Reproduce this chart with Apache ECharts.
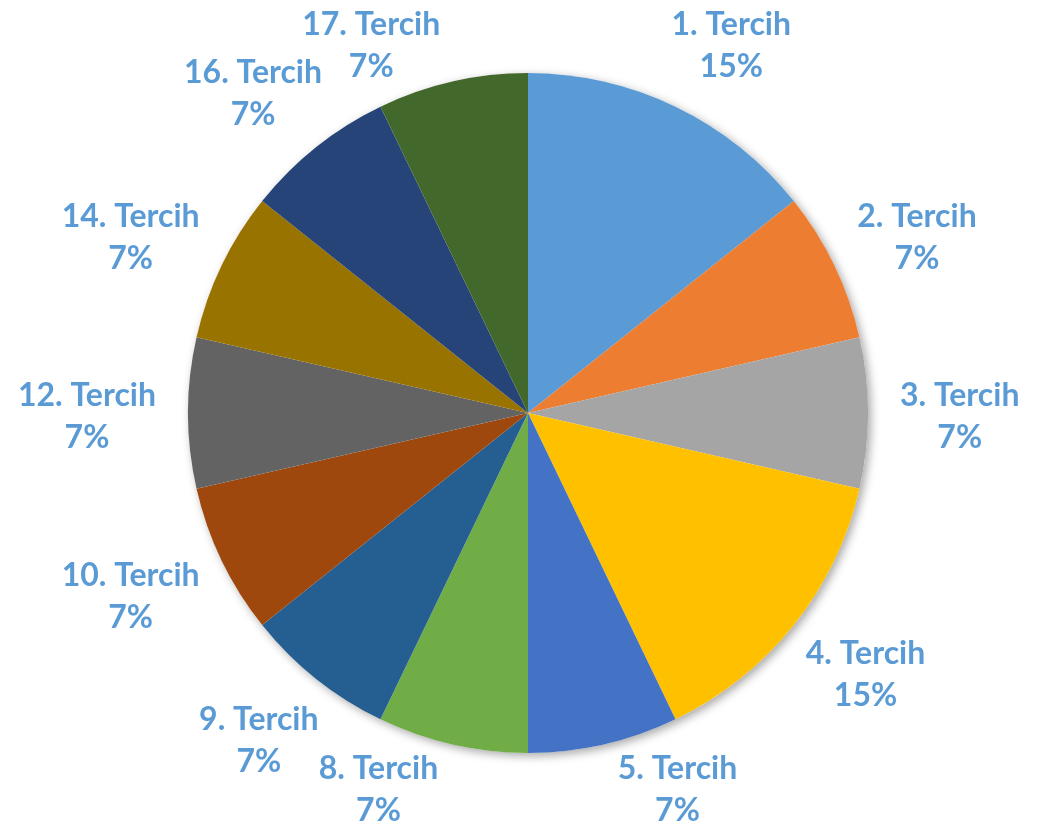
<!DOCTYPE html>
<html>
<head>
<meta charset="utf-8">
<style>html,body{margin:0;padding:0;background:#fff}#c{width:1045px;height:832px}</style>
<script src="https://cdn.jsdelivr.net/npm/echarts@6/dist/echarts.min.js"></script>
</head>
<body>
<div id="c"></div>
<script>
const categories = ['1. Tercih','2. Tercih','3. Tercih','4. Tercih','5. Tercih','8. Tercih','9. Tercih','10. Tercih','12. Tercih','14. Tercih','16. Tercih','17. Tercih'];
const values = [2,1,1,2,1,1,1,1,1,1,1,1];
const colors = ['#5B9BD5','#ED7D31','#A5A5A5','#FFC000','#4472C4','#70AD47','#255E91','#9E480E','#636363','#997300','#264478','#43682B'];

const CX = 528, CY = 413, R = 340;
const GAP_R = 372;          // radius at which label boxes are anchored
const Y_MIN = 46, Y_MAX = 790, Y_SHIFT = 4;

const chart = echarts.init(document.getElementById('c'), null, {renderer: 'canvas'});
const data = categories.map((n, i) => ({name: n, value: values[i], itemStyle: {color: colors[i]}}));

chart.setOption({
  animation: false,
  series: [
    {
      type: 'pie', z: 1, silent: true, center: [CX, CY], radius: R,
      data: [{value: 1, name: ''}],
      label: {show: false}, labelLine: {show: false},
      itemStyle: {color: '#ffffff', shadowBlur: 10, shadowColor: 'rgba(0,0,0,0.35)', shadowOffsetX: 3, shadowOffsetY: 3}
    },
    {
      type: 'pie', z: 2, silent: true, center: [CX, CY], radius: R,
      startAngle: 90, clockwise: true,
      data: data,
      label: {show: false}, labelLine: {show: false}
    },
    {
      type: 'pie', z: 3, silent: true, center: [CX, CY], radius: [R, 520],
      startAngle: 90, clockwise: true, percentPrecision: 0,
      data: categories.map((n, i) => ({name: n, value: values[i]})),
      itemStyle: {color: 'rgba(0,0,0,0)'},
      labelLine: {show: false},
      label: {
        show: true, position: 'inside', formatter: '{b}\n{d}%',
        color: '#5B9BD5', fontFamily: 'Lato', fontWeight: 'bold', fontSize: 32, lineHeight: 42
      },
      labelLayout: function (p) {
        const r = p.labelRect;
        const lx = r.x + r.width / 2, ly = r.y + r.height / 2;
        const d = Math.hypot(lx - CX, ly - CY);
        const ux = (lx - CX) / d, uy = (ly - CY) / d;
        const nx = CX + GAP_R * ux + r.width / 2 * ux;
        const ny = CY + GAP_R * uy + r.height / 2 * uy;
        if (ny >= Y_MIN && ny <= Y_MAX) {
          return {x: nx, y: ny + Y_SHIFT};
        }
        const ty = ny < Y_MIN ? Y_MIN : Y_MAX;
        const t = (ty - CY) / (ly - CY);
        const ax = CX + (lx - CX) * t;
        const cxp = CX + Math.sign(lx - CX) * Math.sqrt(Math.max(0, d * d - (ty - CY) * (ty - CY)));
        return {x: (ax + cxp) / 2, y: ty};
      }
    }
  ]
});
</script>
</body>
</html>
